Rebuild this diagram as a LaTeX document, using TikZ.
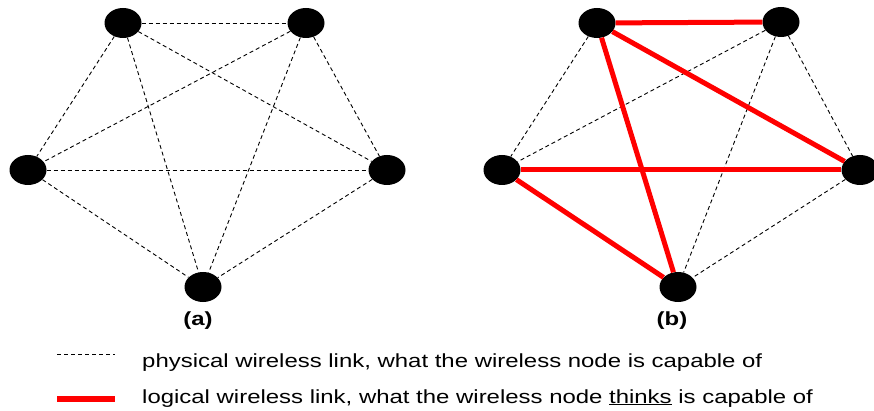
\documentclass[tikz,border=0pt]{standalone}
\usepackage{fontspec}
\setmainfont{Liberation Sans}[FakeStretch=1.26]
\usetikzlibrary{shapes.geometric,positioning}
\definecolor{linkRed}{HTML}{FF0000}

\begin{document}
\begin{tikzpicture}[x=1pt, y=-1pt,
      dot/.style={ellipse, fill=black, minimum width=37pt, minimum height=30pt, inner sep=0pt},
      physLink/.style={draw=black, line width=0.9pt, dash pattern=on 4pt off 3pt},
      logLink/.style={draw=linkRed, line width=5pt},
      caption/.style={font=\fontsize{19}{22}\selectfont\bfseries},
      legendText/.style={font=\fontsize{19}{22}\selectfont, anchor=base west, inner sep=0pt}
    ]
      \useasboundingbox (0,0) rectangle (874,411);

      % (a) all physical links
      \node[dot] (aTL) at (123,23) {};
      \node[dot] (aTR) at (306,23) {};
      \node[dot] (aL) at (28,170) {};
      \node[dot] (aR) at (387,170) {};
      \node[dot] (aB) at (203,287) {};
      \foreach \u/\v in {aTL/aTR, aTL/aL, aTL/aR, aTL/aB, aTR/aL, aTR/aR, aTR/aB, aL/aR, aL/aB, aR/aB}
        \draw[physLink] (\u) -- (\v);
      \node[caption] (capA) at (198,321) {(a)};

      % (b) logical links on top of physical ones
      \node[dot] (bTL) at (597,23) {};
      \node[dot] (bTR) at (781,22) {};
      \node[dot] (bL) at (502,170) {};
      \node[dot] (bR) at (860,170) {};
      \node[dot] (bB) at (678,287) {};
      \foreach \u/\v in {bTL/bL, bTR/bL, bTR/bR, bTR/bB, bR/bB}
        \draw[physLink] (\u) -- (\v);
      \foreach \u/\v in {bTL/bTR, bTL/bR, bTL/bB, bL/bR, bL/bB}
        \draw[logLink] (\u) -- (\v);
      \node[caption] (capB) at (672,321) {(b)};

      % legend
      \coordinate (physA) at (57,354);
      \coordinate (physB) at (115,354);
      \coordinate (logA) at (57,399);
      \coordinate (logB) at (115,399);
      \draw[physLink] (physA) -- (physB);
      \draw[logLink, line width=6pt] (logA) -- (logB);
      \node[legendText] (physText) at (142,367) {physical wireless link, what the wireless node is capable of};
      \node[legendText] (logText) at (142,403) {logical wireless link, what the wireless node \underline{thinks} is capable of};
    \end{tikzpicture}
\end{document}
